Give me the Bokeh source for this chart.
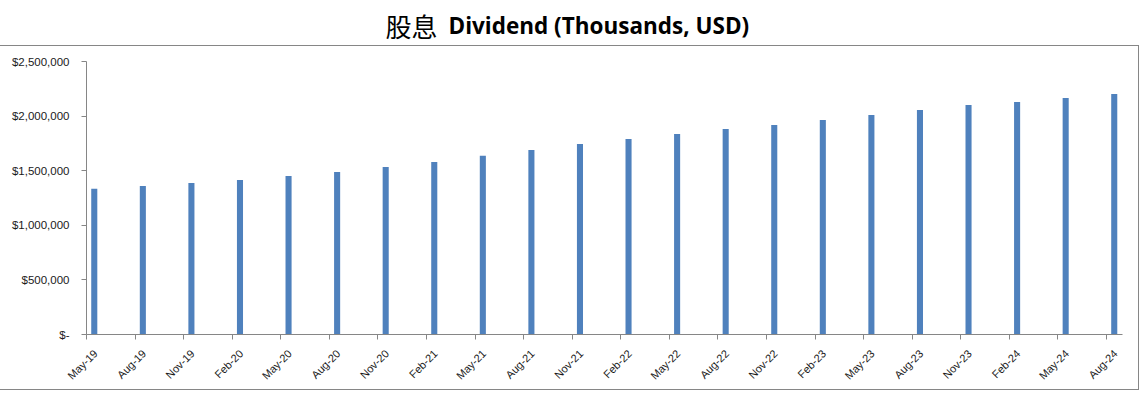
import math
from bokeh.plotting import figure
from bokeh.layouts import column
from bokeh.models import Range1d, FixedTicker, LinearAxis
from bokeh.core.properties import value
from bokeh.embed import file_html
from bokeh.resources import INLINE

# ---- data ----
months = ["May-19", "Aug-19", "Nov-19", "Feb-20", "May-20", "Aug-20", "Nov-20",
          "Feb-21", "May-21", "Aug-21", "Nov-21", "Feb-22", "May-22", "Aug-22",
          "Nov-22", "Feb-23", "May-23", "Aug-23", "Nov-23", "Feb-24", "May-24",
          "Aug-24"]
dividend = [1334000, 1359000, 1387000, 1414000, 1451000, 1487000, 1533000,
            1579000, 1636000, 1689000, 1744000, 1790000, 1836000, 1881000,
            1918000, 1964000, 2010000, 2056000, 2101000, 2129000, 2165000,
            2202000]
y_ticks = [0, 500000, 1000000, 1500000, 2000000, 2500000]
y_tick_labels = ["$-", "$500,000", "$1,000,000", "$1,500,000", "$2,000,000",
                 "$2,500,000"]
title_zh = "股息"
title_en = "Dividend (Thousands, USD)"

# ---- layout constants ----
W = 1139
LEFT, RIGHT = 86, 17
BAR_OFFSET = 0.16
LABEL_SHIFT = 0.185
AXIS_COLOR = "#868686"
x_pos = list(range(len(months)))
bar_x = [i + BAR_OFFSET for i in x_pos]
label_pos = [i + LABEL_SHIFT for i in x_pos]

# ---- title strip ----
t = figure(width=W, height=45, output_backend="svg", toolbar_location=None,
           x_range=Range1d(LEFT, W - RIGHT), y_range=Range1d(0, 45),
           x_axis_location=None, y_axis_location=None,
           min_border_left=LEFT, min_border_right=RIGHT,
           min_border_top=0, min_border_bottom=0,
           border_fill_color="white")
t.title.visible = False
t.grid.visible = False
t.outline_line_color = None
t.text(x=[385], y=[20], text=[title_zh], text_font=value("Noto Sans CJK TC"),
       text_font_size="26px", text_color="black", text_baseline="alphabetic")
t.text(x=[448], y=[20], text=[title_en], text_font=value("Open Sans"),
       text_font_style="bold", text_font_size="22.5px", text_color="black",
       text_baseline="alphabetic")

# ---- main chart ----
p = figure(width=W, height=345, output_backend="svg", toolbar_location=None,
           x_range=Range1d(0, len(months) - 1 + 0.33),
           y_range=Range1d(0, 2500000),
           x_axis_location=None,
           min_border_left=LEFT, min_border_right=RIGHT,
           min_border_top=15, min_border_bottom=57,
           background_fill_color="white", border_fill_color="white")
p.title.visible = False
p.styles = {"border-top": "1px solid #868686",
            "border-right": "1px solid #868686",
            "border-bottom": "1px solid #868686"}

p.vbar(x=bar_x, top=dividend, width=0.125, fill_color="#4F81BD",
       line_color=None)

p.grid.visible = False
p.outline_line_color = None

# x axis: tick marks at the category positions (labels not drawn)
xa = LinearAxis(ticker=FixedTicker(ticks=x_pos))
xa.axis_line_color = AXIS_COLOR
xa.major_tick_line_color = AXIS_COLOR
xa.minor_tick_line_color = None
xa.major_tick_in = 0
xa.major_tick_out = 5
xa.major_label_text_font_size = "1px"
xa.major_label_text_color = None
xa.major_label_standoff = 0
p.add_layout(xa, "below")

# x axis labels (slightly offset, as in the original)
xl = LinearAxis(ticker=FixedTicker(ticks=label_pos))
xl.axis_line_color = None
xl.major_tick_line_color = None
xl.minor_tick_line_color = None
xl.major_label_overrides = {v: m for v, m in zip(label_pos, months)}
xl.major_label_orientation = math.pi / 4
xl.major_label_standoff = 6
xl.major_label_text_font = "Liberation Sans"
xl.major_label_text_font_size = "11px"
xl.major_label_text_color = "#1a1a1a"
p.add_layout(xl, "below")

ya = p.yaxis[0]
ya.ticker = FixedTicker(ticks=y_ticks)
ya.major_label_overrides = {v: s for v, s in zip(y_ticks, y_tick_labels)}
ya.axis_line_color = AXIS_COLOR
ya.major_tick_line_color = AXIS_COLOR
ya.minor_tick_line_color = None
ya.major_tick_in = 0
ya.major_tick_out = 5
ya.major_label_standoff = 12
ya.major_label_text_font = "Liberation Sans"
ya.major_label_text_font_size = "11.5px"
ya.major_label_text_color = "#1a1a1a"

layout = column(t, p, spacing=0)
open("out.html", "w").write(file_html(layout, INLINE))
